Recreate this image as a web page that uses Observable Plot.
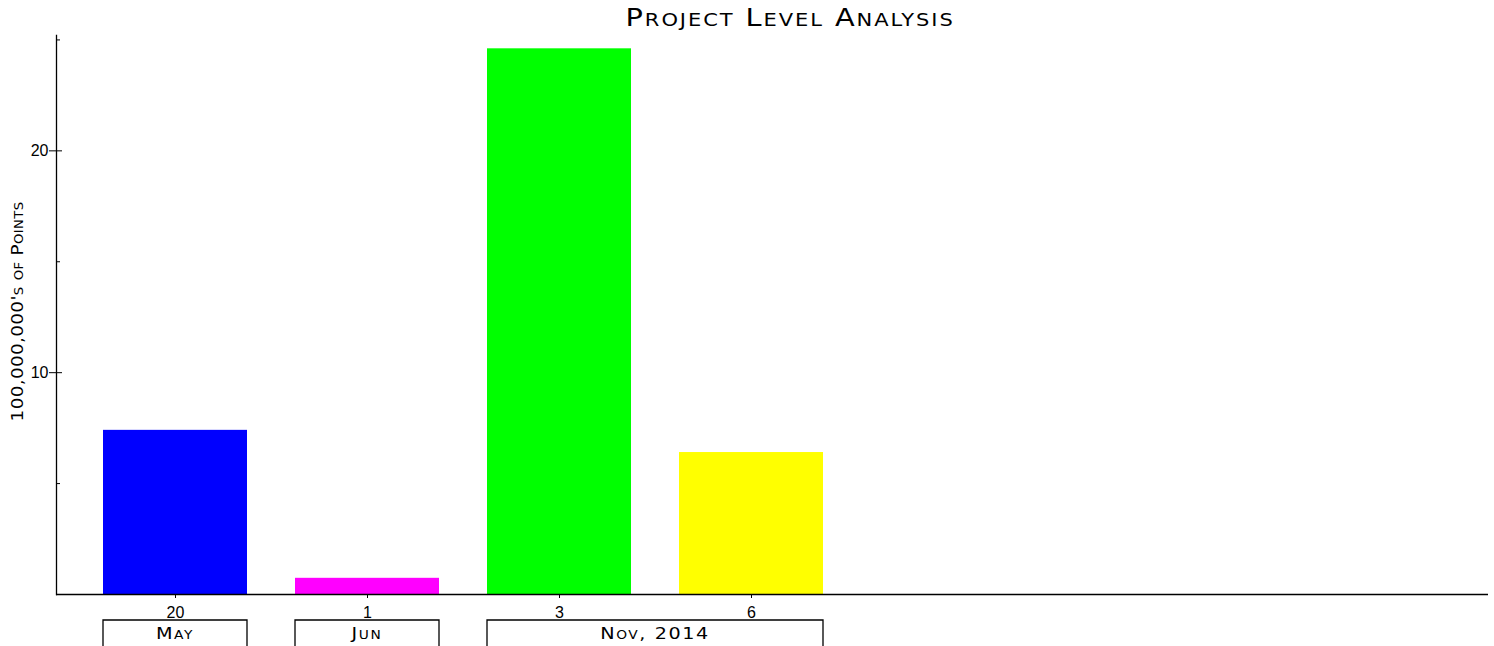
<!DOCTYPE html>
<html>
<head>
<meta charset="utf-8">
<script src="https://cdn.jsdelivr.net/npm/d3@7"></script>
<script src="https://cdn.jsdelivr.net/npm/@observablehq/plot@0.6"></script>
<style>
  body { margin: 0; background: #fff; }
  #title {
    box-sizing: border-box;
    width: 1494px; height: 34px;
    padding-left: 86px;
    font-family: "DejaVu Sans", sans-serif;
    font-size: 24px; line-height: 36px;
    text-align: center; color: #000;
    white-space: nowrap; overflow: visible;
  }
  #title .inner { display: inline-block; transform: scaleX(1.2); letter-spacing: 1.6px; }
  #title .sc { font-size: 17.5px; }
  #chart svg { display: block; }
</style>
</head>
<body>
<div id="title"></div>
<div id="chart"></div>
<script>
// ---- data ----
const title = "Project Level Analysis";
const categories = ["May 20", "Jun 1", "Nov 3", "Nov 6"];
const dayLabels = ["20", "1", "3", "6"];
const values = [7.4, 0.73, 24.6, 6.4];
const monthLabels = ["May", "Jun", "Nov, 2014"];
const monthFirst = ["May 20", "Jun 1", "Nov 3"];
const monthLast = ["May 20", "Jun 1", "Nov 6"];
const yTicksMajor = [10, 20];
const yTicksMinor = [5, 15, 25];
const yLabel = "100,000,000's of Points";

// ---- styles ----
const barColors = ["#0000ff", "#ff00ff", "#00ff00", "#ffff00"];

// split text into small-caps runs
function scRuns(str) {
  const runs = [];
  for (const ch of str) {
    const small = ch !== ch.toUpperCase();
    const t = small ? ch.toUpperCase() : ch;
    if (runs.length && runs[runs.length - 1].small === small) runs[runs.length - 1].text += t;
    else runs.push({text: t, small});
  }
  return runs;
}

// title (HTML, above the SVG)
{
  const inner = document.createElement("span");
  inner.className = "inner";
  for (const r of scRuns(title)) {
    const s = document.createElement("span");
    if (r.small) s.className = "sc";
    s.textContent = r.text;
    inner.appendChild(s);
  }
  document.getElementById("title").appendChild(inner);
}

function scText(sel, str, big, small) {
  for (const r of scRuns(str)) {
    sel.append("tspan").attr("font-size", r.small ? small : big).text(r.text);
  }
}

const table = categories.map((c, i) => ({category: c, value: values[i]}));

function monthBrackets(index, scales, vals, dimensions) {
  const x = scales.x;
  const bw = typeof x.bandwidth === "function" ? x.bandwidth() : scales.scales.x.bandwidth;
  const base = dimensions.height - dimensions.marginBottom;
  const g = d3.create("svg:g").attr("aria-label", "month brackets");
  monthLabels.forEach((label, i) => {
    const x0 = x(monthFirst[i]);
    const x1 = x(monthLast[i]) + bw;
    g.append("path")
      .attr("d", `M${x0},${base + 54}V${base + 26}H${x1}V${base + 54}`)
      .attr("fill", "none").attr("stroke", "#000").attr("stroke-width", 1.3);
    const t = g.append("text")
      .attr("transform", `translate(${(x0 + x1) / 2},${base + 45}) scale(1.2,1)`)
      .attr("text-anchor", "middle")
      .attr("font-family", "DejaVu Sans, sans-serif")
      .attr("letter-spacing", "1.3px")
      .attr("fill", "#000");
    scText(t, label, 16, 11.5);
  });
  return g.node();
}

function yAxisLabel(index, scales, vals, dimensions) {
  const {height, marginTop, marginBottom, marginLeft} = dimensions;
  const cx = marginLeft - 39;
  const cy = (marginTop + height - marginBottom) / 2 - 3;
  const g = d3.create("svg:g").attr("aria-label", "y-axis label");
  const t = g.append("text")
    .attr("transform", `translate(${cx},${cy}) rotate(-90) scale(1.15,1)`)
    .attr("text-anchor", "middle")
    .attr("dy", "0.36em")
    .attr("font-family", "DejaVu Sans, sans-serif")
    .attr("letter-spacing", "0.3px")
    .attr("fill", "#000");
  scText(t, yLabel, 16, 11.5);
  return g.node();
}

const W = 1494, ML = 56, MR = 6;
const frameW = W - ML - MR;

const chart = Plot.plot({
  width: W, height: 612,
  marginTop: 1, marginBottom: 52, marginLeft: ML, marginRight: MR,
  style: {fontFamily: "'Liberation Sans', Arial, sans-serif", fontSize: "16px", color: "#000", background: "#fff", overflow: "visible"},
  x: {type: "band", domain: categories, range: [79.3, 847.3], paddingInner: 0.25, paddingOuter: 0.125},
  y: {domain: [0, 25.2]},
  color: {type: "ordinal", domain: categories, range: barColors},
  marks: [
    Plot.barY(table, {x: "category", y: "value", fill: "category"}),
    Plot.ruleY([0], {stroke: "#000", strokeWidth: 1.3}),
    Plot.frame({anchor: "left", stroke: "#000", strokeWidth: 1.3}),
    Plot.axisY({ticks: yTicksMajor, tickSize: 7, tickPadding: 1, fontSize: 16, stroke: "#000", label: null}),
    Plot.tickY(yTicksMajor, {y: d => d, insetRight: frameW - 6, stroke: "#000"}),
    Plot.tickY(yTicksMinor, {y: d => d, insetRight: frameW - 4, stroke: "#000"}),
    Plot.axisX({tickSize: 4, tickPadding: 8, fontSize: 16, label: null, tickFormat: d => dayLabels[categories.indexOf(d)]}),
    yAxisLabel,
    monthBrackets
  ]
});
document.getElementById("chart").appendChild(chart);
</script>
</body>
</html>
